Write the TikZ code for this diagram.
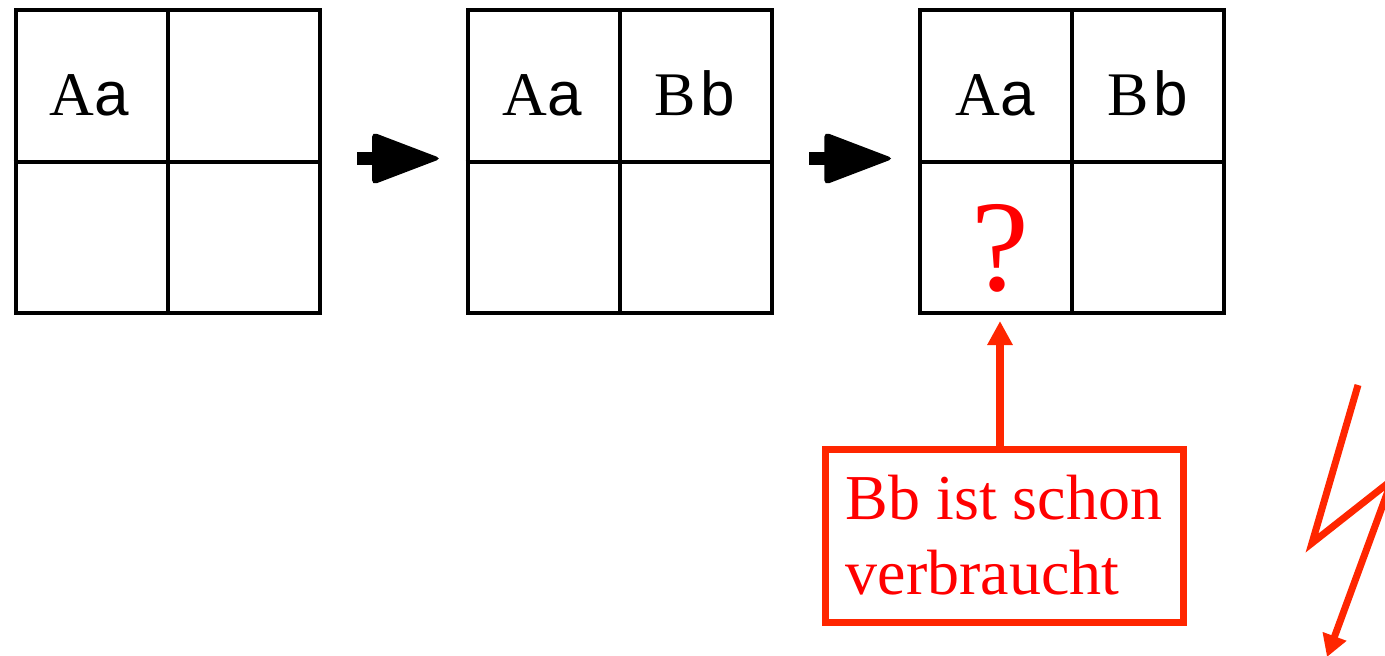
\documentclass[tikz,border=0pt]{standalone}
\usepackage{fontspec}
\setmainfont{Liberation Serif}
\newfontfamily\sansfam{Liberation Sans}
\usetikzlibrary{arrows.meta,calc}
\definecolor{boxred}{RGB}{255,38,0}
\definecolor{txtred}{RGB}{255,0,0}
\begin{document}
\begin{tikzpicture}[x=0.5pt,y=-0.5pt,
  grid/.style={draw, line width=2pt, minimum width=152pt, minimum height=151.5pt, inner sep=0pt},
  gridline/.style={line width=2pt},
  cell/.style={anchor=base, font=\fontsize{31}{31}\selectfont},
  fatarrow/.pic={
    \fill[rounded corners=2.5pt] (-27,-26.5) -- (42.5,0) -- (-27,26.5) -- cycle;
    \fill (-42.5,-6.5) rectangle (-26,6.5);
  }]
\useasboundingbox (0,0) rectangle (1385,655);
\clip (0,0) rectangle (1385,655);

% the three 2x2 grids
\node[grid] (g1) at (167.5,161.5) {};
\node[grid] (g2) at (619.5,161.5) {};
\node[grid] (g3) at (1072,161.5) {};
\foreach \g in {g1,g2,g3}{
  \draw[gridline] (\g.north) -- (\g.south);
  \draw[gridline] (\g.west) -- (\g.east);
}

% cell contents
\node[cell] (a1) at (89,115) {A{\sansfam a}};
\node[cell] (a2) at (542,115) {A{\sansfam a}};
\node[cell] (b2) at (695,115) {B\kern2.5pt{\sansfam b}};
\node[cell] (a3) at (995,115) {A{\sansfam a}};
\node[cell] (b3) at (1148,115) {B\kern2.5pt{\sansfam b}};
\node[anchor=base, text=txtred, font=\fontsize{65}{65}\selectfont, inner sep=0pt] (qm) at (1000,290) {?};

% step arrows between the grids
\coordinate (s1) at ($(g1.east)!0.5!(g2.west)+(5.5,-3)$);
\coordinate (s2) at ($(g2.east)!0.5!(g3.west)+(5.5,-3)$);
\pic at (s1) {fatarrow};
\pic at (s2) {fatarrow};

% note box
\node[draw=boxred, line width=3.5pt, text=txtred, align=left,
      minimum width=179pt, minimum height=86.5pt,
      font=\fontsize{32}{37.5}\selectfont] (note) at (1004,535.5)
  {Bb ist schon\\verbraucht};
\draw[boxred, line width=4pt, shorten >=3pt, -{Triangle[length=12pt,width=12pt]}]
  (note.north -| qm) -- (g3.south -| qm);

% lightning bolt
\coordinate (z0) at (1358,385);
\coordinate (z1) at (1312,543);
\coordinate (z2) at (1392,480);
\coordinate (z3) at (1327,657);
\draw[boxred, line width=3.5pt, -{Triangle[length=11pt,width=12pt]}]
  (z0) -- (z1) -- (z2) -- (z3);
\end{tikzpicture}
\end{document}
